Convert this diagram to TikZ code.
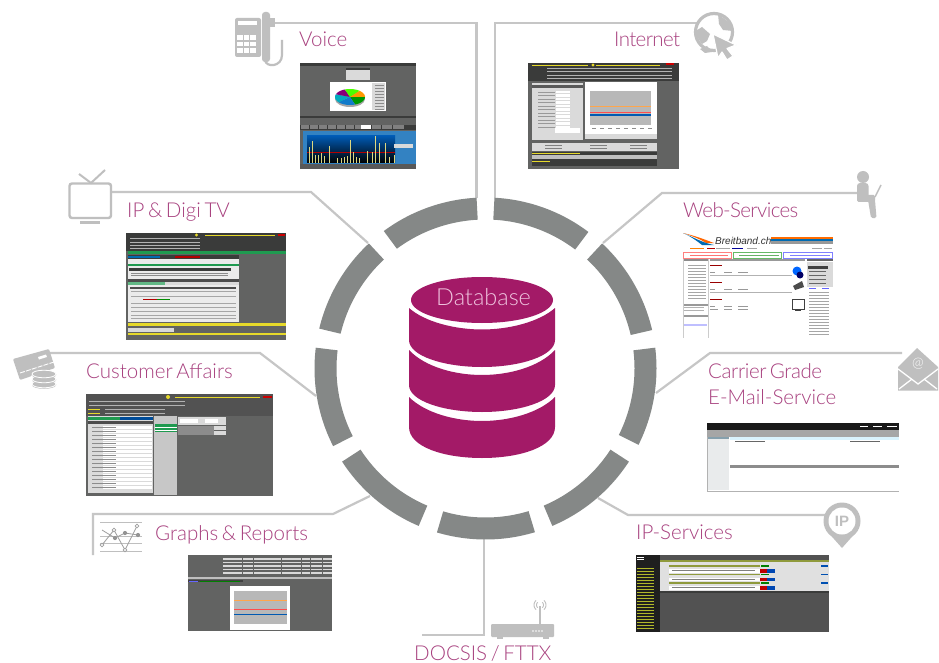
\documentclass[tikz,border=0pt]{standalone}
\usepackage{fontspec}
\setmainfont{Lato}[UprightFont={* Light},WordSpace=0.65]
\newfontfamily\heavyfont{Liberation Sans}[Scale=1]
\definecolor{magtxt}{HTML}{A8417F}
\definecolor{dbmag}{HTML}{A31A67}
\definecolor{dbtxt}{HTML}{EFC3DE}
\definecolor{ringgrey}{HTML}{858887}
\definecolor{linegrey}{HTML}{C6C6C6}
\definecolor{icongrey}{HTML}{BFBFBF}
\definecolor{scrbg}{HTML}{626362}
\definecolor{scrdk}{HTML}{3A3B3A}
\definecolor{scrlt}{HTML}{DADADA}
\definecolor{scrgreen}{HTML}{1F9A50}
\definecolor{scryel}{HTML}{E6D92A}
\definecolor{scrolive}{HTML}{8F9A3C}
\newcommand{\bx}[5]{\fill[#5] (#1,#2) rectangle (#3,#4);}
\newcommand{\ringpart}[2]{\fill[ringfill] plot[domain=#1:#2,samples=30] ({485.5+171*cos(\x)},{368.5+171*sin(\x)}) -- plot[domain=#2:#1,samples=30] ({485.5+149*cos(\x)},{368.5+149*sin(\x)}) -- cycle;}
\newcommand{\piepart}[3]{\fill[#3] (350,97) -- plot[domain=#1:#2,samples=12] ({350+15*cos(\x)},{97+8*sin(\x)}) -- cycle;}
\newcommand{\tight}[2]{{\addfontfeature{LetterSpace=#1}#2}}
\tikzset{
  connector/.style={draw=linegrey,line width=2.2pt,line join=miter},
  ringfill/.style={fill=ringgrey},
  svctext/.style={anchor=base west,inner sep=0pt,text=magtxt,font=\fontsize{20.5}{24}\selectfont},
  icon/.style={fill=icongrey,draw=none},
  iconline/.style={draw=icongrey,line width=2.2pt},
  faint/.style={draw=#1,line width=0.5pt},
}
\begin{document}
\begin{tikzpicture}[x=1pt,y=-1pt]
\useasboundingbox (0,0) rectangle (939,663);
\fill[white] (0,0) rectangle (939,663);

% ---- connector end points
\coordinate (voiceA) at (273,23); \coordinate (voiceB) at (476.5,23); \coordinate (voiceC) at (476.5,198);
\coordinate (netA) at (495,198); \coordinate (netB) at (495,23); \coordinate (netC) at (697,23);
\coordinate (tvA) at (112,192); \coordinate (tvB) at (311,192); \coordinate (tvC) at (368,243);
\coordinate (webA) at (857,193); \coordinate (webB) at (662,193); \coordinate (webC) at (603,243);
\coordinate (custA) at (50,353); \coordinate (custB) at (260,353); \coordinate (custC) at (316,396);
\coordinate (mailA) at (902,353); \coordinate (mailB) at (710,353); \coordinate (mailC) at (656,393);
\coordinate (graphA) at (93,555); \coordinate (graphB) at (93,514); \coordinate (graphC) at (333,514); \coordinate (graphD) at (370,496);
\coordinate (docA) at (422,635); \coordinate (docB) at (484,635); \coordinate (docC) at (484,538);
\coordinate (ipA) at (825,515); \coordinate (ipB) at (628,515); \coordinate (ipC) at (598,498);

\draw[connector] (voiceA) -- (voiceB) -- (voiceC);
\draw[connector] (netA) -- (netB) -- (netC);
\draw[connector] (tvA) -- (tvB) -- (tvC);
\draw[connector] (webA) -- (webB) -- (webC);
\draw[connector] (custA) -- (custB) -- (custC);
\draw[connector] (mailA) -- (mailB) -- (mailC);
\draw[connector] (graphA) -- (graphB) -- (graphC) -- (graphD);
\draw[connector] (docA) -- (docB) -- (docC);
\draw[connector] (ipA) -- (ipB) -- (ipC);

% ---- ring
\ringpart{-87}{-53}
\ringpart{-47}{-13}
\ringpart{-7}{26.5}
\ringpart{33}{67}
\ringpart{73.2}{106.5}
\ringpart{113}{147}
\ringpart{153}{187}
\ringpart{193.5}{227}
\ringpart{233.5}{267}

% ---- database
\fill[dbmag] (409,340) -- (409,308) .. controls (425,322) and (455,329.5) .. (482,329.5) .. controls (509,329.5) and (539,322) .. (555,308) -- (555,340) .. controls (555,356) and (520,367) .. (482,367) .. controls (444,367) and (409,356) .. (409,340) -- cycle;
\fill[dbmag] (409,385) -- (409,350) .. controls (425,367) and (455,375) .. (482,375) .. controls (509,375) and (539,367) .. (555,350) -- (555,385) .. controls (555,401) and (520,412) .. (482,412) .. controls (444,412) and (409,401) .. (409,385) -- cycle;
\fill[dbmag] (409,427) -- (409,397) .. controls (425,413) and (455,421) .. (482,421) .. controls (509,421) and (539,413) .. (555,397) -- (555,427) .. controls (555,447) and (520,458) .. (482,458) .. controls (444,458) and (409,447) .. (409,427) -- cycle;
\fill[dbmag] (482,300) ellipse [x radius=71,y radius=23];
\node[svctext,text=dbtxt,font=\fontsize{23.5}{26}\selectfont] (database) at (436,305) {Database};

% ---- service labels
\node[svctext] (voice) at (299,47) {Voice};
\node[svctext] (internet) at (614,47) {\tight{-3}{Internet}};
\node[svctext] (iptv) at (127,218) {IP \& Digi TV};
\node[svctext] (web) at (683,218) {\tight{-3}{Web-Services}};
\node[svctext] (customer) at (86,378) {Customer Affairs};
\node[svctext] (carrier) at (708,378) {\tight{-2}{Carrier Grade}};
\node[svctext] (email) at (708,404) {E-Mail-Service};
\node[svctext] (graphs) at (155,540) {Graphs \& Reports};
\node[svctext] (ipserv) at (636,539) {IP-Services};
\node[svctext] (docsis) at (414,660) {DOCSIS / FTTX};

% ---- icon: phone
\fill[icon,rounded corners=2pt] (235,18) rectangle (261,57);
\fill[white] (238,21) rectangle (257,25.5);
\fill[white] (237,35) rectangle (256,53);
\foreach \a in {243.3,249.6} {\draw[icongrey,line width=1.2pt] (\a,35) -- (\a,53);}
\foreach \a in {41,47} {\draw[icongrey,line width=1.2pt] (237,\a) -- (256,\a);}
\fill[icon,rounded corners=3pt] (262,12) rectangle (270,62);
\fill[icon] (269,18) rectangle (275,27);
\draw[iconline] (282,40) -- (282,55) .. controls (282,67) and (266,68) .. (265,60);

% ---- icon: globe with cursor
\draw[icongrey,line width=3.2pt] (714,32) circle (18.5);
\fill[icon] (694,32) -- (702,27) -- (710,34) -- (707,41) -- (702,44) -- (697,37) -- cycle;
\fill[icon] (718,14) -- (731,24) -- (733,31) -- (723,30) -- (719,24) -- cycle;
\fill[icon] (700,49) -- (707,46) -- (712,52) -- (705,53) -- cycle;
\fill[icon,draw=white,line width=1.2pt,line join=round] (713,34) -- (736,45) -- (727,48.5) -- (733,56) -- (727,60) -- (722,52) -- (718,58) -- cycle;

% ---- icon: TV
\draw[icongrey,line width=2.4pt,rounded corners=2.5pt] (69.5,183.5) rectangle (111,218);
\draw[icongrey,line width=2pt] (79,174) -- (91,183) -- (105,170);
\fill[icon] (80,221) rectangle (100,223.5);

% ---- icon: credit card and coins
\fill[icon,rounded corners=1pt] (13,359) -- (49,349) -- (55,368) -- (20,380) -- cycle;
\fill[white] (38,357) -- (46,354.5) -- (47,357) -- (39,359.5) -- cycle;
\draw[white,line width=0.9pt,dash pattern=on 5pt off 1.2pt] (20,373) -- (54,362);
\fill[white] (44,380) ellipse [x radius=14,y radius=10];
\foreach \a in {384,379,374}{
  \fill[icon] (32,\a) -- (32,\a+1) .. controls (32,\a+6) and (56,\a+6) .. (56,\a+1) -- (56,\a) -- cycle;
  \fill[icon,draw=white,line width=0.8pt] (44,\a) ellipse [x radius=12,y radius=3.8];
}

% ---- icon: person with laptop
\fill[icon] (863,177) circle (6);
\fill[icon,rounded corners=3pt] (857,183) rectangle (868.5,202);
\fill[icon,rounded corners=1.5pt] (857,195) rectangle (875,202);
\fill[icon,rounded corners=1.5pt] (868,200) -- (875,200) -- (876.5,218) -- (871,218) -- cycle;
\draw[icongrey,line width=1.4pt] (875,197) -- (881,185);

% ---- icon: envelope
\fill[icon] (898,367) -- (917,348) -- (938,367) -- (938,390.5) -- (898,390.5) -- cycle;
\node[inner sep=0pt,text=white,font=\fontsize{14}{14}\selectfont] (mailat) at (918,364) {@};
\draw[white,line width=1.3pt] (898,369) -- (918,384) -- (938,369);
\draw[white,line width=1.3pt] (899,389) -- (912,379) (937,389) -- (924,379);

% ---- icon: graph
\foreach \a in {522,536,543,551} {\draw[icongrey,line width=0.9pt] (100,\a) -- (142,\a);}
\draw[black!38,line width=0.8pt] (102,545) -- (114,530) -- (125,550) -- (137,526);
\draw[black!38,line width=0.8pt] (102,530) -- (115,538) -- (125,533) -- (138,535);
\foreach \p/\q in {102/545,114/530,125/550,137/526}
  {\fill[white,draw=black!38,line width=0.7pt] (\p,\q) circle (1.9);}
\foreach \p/\q in {115/538,125/533,138/535}
  {\fill[black!42] (\p,\q) circle (2.1);}

% ---- icon: router
\fill[icon,rounded corners=1pt] (491,624) rectangle (554,637);
\fill[icon] (497,637) rectangle (503,639); \fill[icon] (543,637) rectangle (549,639);
\foreach \a in {533,536,539,542} {\fill[white] (\a,631) circle (0.9);}
\draw[icongrey,line width=1.4pt] (540,624) -- (540,606);
\foreach \r in {3.5,6}{
  \draw[icongrey,line width=0.9pt] plot[domain=-50:50,samples=9] ({540+\r*cos(\x)},{605+\r*sin(\x)});
  \draw[icongrey,line width=0.9pt] plot[domain=130:230,samples=9] ({540+\r*cos(\x)},{605+\r*sin(\x)});
}

% ---- icon: IP pin
\fill[icon] (842,548) -- (826,530) -- (858,530) -- cycle;
\fill[icon] (842,521) circle (18.5);
\fill[white] (842,521) circle (13.5);
\node[inner sep=0pt,text=icongrey,font=\heavyfont\bfseries\fontsize{15}{15}\selectfont] (pintext) at (842,521) {IP};

% ---- screenshot: Voice
\bx{300}{63}{416}{169}{scrbg}
\bx{300}{63}{416}{66}{scrdk}
\bx{346}{68}{370}{80}{scrlt}
\bx{346}{68}{370}{70.5}{scrdk}
\bx{330}{82}{386}{111}{white}
\fill[black!35] (350,99) ellipse [x radius=15,y radius=8];
\piepart{0}{70}{green!60!black}
\piepart{70}{140}{cyan!60!blue}
\piepart{140}{200}{cyan!70!green}
\piepart{200}{250}{purple!70!blue}
\piepart{250}{310}{green!70!yellow}
\piepart{310}{360}{orange!80!yellow}
\bx{372}{83}{385}{110}{scrlt}
\foreach \a in {85,88,...,109} {\draw[faint=black!45] (375,\a) -- (384,\a);}
\bx{300}{116}{416}{118}{scrdk}
\bx{300}{125}{416}{130}{scrdk}
\foreach \a in {301,310,319,328,337,346,355} {\bx{\a}{125.5}{\a+7.5}{129.5}{black!50}}
\bx{361}{125.5}{371}{129.5}{white}
\bx{372}{125.5}{381}{129.5}{black!50}
\bx{382}{125.5}{392}{129.5}{black!50}
\bx{393}{125.5}{404}{129.5}{black!50}
\bx{302.7}{131}{416}{164.5}{blue!45!cyan!70!black!80}
\shade[top color=blue!50!cyan!70!black,bottom color=black] (307,136) rectangle (395,163);
\draw[red!70!black,line width=0.7pt] (307,152) -- (395,152);
\foreach \p/\q in {309/147,312/141,315/155,318/155,321/153,324/156,329/146,337/158,341/158,344/157,347/156,350/140,353/152,356/157,359/158,367/151,372/152,375/136,379/143,385/143,389/157,394/155}
  {\draw[yellow!50!white!85!black,line width=0.9pt] (\p,163) -- (\p,\q);}
\bx{394}{144}{413}{148}{scrlt}
\bx{300}{164.5}{416}{169}{black!65}

% ---- screenshot: Internet
\bx{528}{63}{679}{169}{scrbg}
\bx{528}{63}{679}{81}{scrdk}
\foreach \a in {68,71,75,78} {\draw[faint=white!70!black] (547,\a) -- (672,\a);}
\draw[faint=scryel] (532,65) -- (588,65);
\fill[scryel] (593,65) circle (1.6);
\draw[faint=scryel] (596,65) -- (660,65);
\bx{666}{63.5}{674}{65}{red!80!black}
\bx{532}{83}{583}{140}{scrlt}
\bx{532}{85}{583}{88}{black!65}
\foreach \a in {91,94.5,...,126} {\bx{556}{\a}{570}{\a+2.4}{white}}
\foreach \a in {92,95.5,...,127} {\draw[faint=black!40] (538,\a) -- (555,\a);}
\bx{555}{128}{580}{133}{white}
\bx{585}{82}{657}{139}{white}
\bx{590}{91}{651}{125}{black!28}
\draw[orange!70,line width=0.6pt] (590,106) -- (651,106);
\draw[red!70,line width=0.6pt] (590,112) -- (651,112);
\draw[blue!50!cyan!70!black,line width=1.4pt] (590,115) -- (651,115);
\foreach \a in {592,600,...,648} {\draw[faint=black!45] (\a,128) -- (\a+4,128);}
\bx{585}{134}{657}{139}{black!15}
\bx{532}{143}{657}{151}{scrlt}
\foreach \a in {545,590,630} {\draw[faint=black!50] (\a,145) -- (\a+17,145) (\a,148) -- (\a+17,148);}
\bx{532}{152}{657}{166}{scrdk}
\bx{532}{155}{657}{159}{white!75!black}
\draw[faint=scryel] (532,153) -- (580,153);
\draw[faint=scryel] (532,161) -- (550,161);

% ---- screenshot: IP & Digi TV
\bx{126}{233}{286}{340}{scrbg}
\bx{126}{233}{286}{251}{scrdk}
\foreach \a in {238,242,245,248} {\draw[faint=white!70!black] (130,\a) -- (200,\a);}
\draw[faint=scryel] (205,235) -- (275,235);
\fill[scryel] (196.5,235) circle (1.7);
\bx{278}{234}{285}{236}{red!80!black}
\bx{128}{250.5}{286}{254}{scrgreen}
\bx{128}{255}{239}{259}{scrdk}
\bx{128}{256}{160}{258}{blue!40!cyan!70!black}
\bx{175}{256}{200}{258}{red!70!black}
\bx{128}{259}{239}{322}{white!92!black}
\bx{128}{264}{239}{266}{scrgreen}
\bx{129}{268}{231}{271}{scrdk}
\foreach \a in {273,275} {\draw[faint=black!45] (131,\a) -- (228,\a);}
\bx{128}{279}{239}{282}{black!70}
\bx{128}{282}{239}{285}{scrlt}
\bx{128}{282}{165}{285}{scrgreen!70!white}
\bx{130}{287}{236}{289}{black!70}
\foreach \a in {291,296,303,307,311,315,318} {\draw[faint=black!35] (131,\a) -- (236,\a);}
\bx{143}{298.5}{157}{300}{red!70!black}
\bx{157}{298.5}{170}{300}{green!55!black}
\bx{128}{323}{286}{325.5}{scryel}
\bx{128}{328}{174}{332}{white!85!black}
\bx{128}{333}{286}{335}{scryel}

% ---- screenshot: Customer Affairs
\bx{86}{394}{273}{496}{scrbg}
\bx{86}{394}{273}{416}{black!68}
\foreach \a in {401,405} {\draw[faint=white!70!black] (89,\a) -- (185,\a);}
\foreach \a in {409,413} {\draw[faint=white!70!black] (105,\a) -- (165,\a); \draw[faint=scryel] (88,\a) -- (100,\a);}
\draw[faint=scryel] (175,397) -- (260,397);
\fill[scryel] (168,397) circle (2);
\bx{263}{396}{272}{397.5}{red!80!black}
\bx{88}{416}{153}{493}{scrlt}
\bx{88}{417}{120}{419.5}{scrgreen}
\bx{120}{417}{153}{419.5}{blue!50!cyan!60!black}
\bx{88}{421}{153}{424}{black!70}
\foreach \a in {426,430,...,488} {\bx{103}{\a}{152}{\a+2.8}{white}}
\foreach \a in {427,431,...,489} {\draw[faint=black!45] (92,\a) -- (116,\a);}
\bx{154}{416}{177}{495}{black!22}
\bx{155}{424}{177}{432}{scrgreen}
\bx{155}{426.5}{177}{427.5}{white}
\bx{155}{429.5}{177}{430.5}{white}
\bx{178}{417}{226}{425}{scrlt}
\bx{180}{419}{198}{423}{white}
\bx{205}{419}{218}{423}{white}
\bx{178}{426}{214}{435}{black!45}
\bx{214}{426}{226}{430}{scrlt}
\bx{214}{431}{226}{435}{scrlt}

% ---- screenshot: Web-Services
\bx{682}{233}{833}{338}{white}
\fill[orange!80!red] (683,233) .. controls (700,237) and (708,241) .. (714,243) -- (706,243) .. controls (700,239) and (692,236) .. (683,233) -- cycle;
\fill[blue!40!cyan!70!black] (683,233) .. controls (695,238) and (703,243) .. (714,245) -- (702,245) .. controls (697,241) and (690,236) .. (683,233) -- cycle;
\node[inner sep=0pt,anchor=base west,text=black!80,font=\heavyfont\itshape\fontsize{10}{12}\selectfont] (breit) at (715,244) {Breitband.ch};
\bx{771}{237}{833}{239}{orange!85!red}
\bx{771}{239}{833}{241}{blue!40!cyan!70!black}
\bx{771}{241}{833}{244}{black!40}
\foreach \a/\b/\c in {690/704/orange,707/715/red!70!black,716/730/black!35,732/743/blue!60!black,747/757/black!35,812/822/black!35,824/832/black!35}
  {\draw[\c,line width=0.9pt] (\a,248) -- (\b,248);}
\draw[red!50,line width=0.5pt] (683,252.5) rectangle (731,258);
\draw[green!55!black!60,line width=0.5pt] (733,252.5) rectangle (781,258);
\draw[blue!50,line width=0.5pt] (783,252.5) rectangle (832,258);
\foreach \a/\b/\c in {690/728/red!55,739/779/green!50!black!60,790/830/blue!50}
  {\draw[\c,line width=0.8pt] (\a,255.3) -- (\b,255.3);}
\bx{683}{259}{708}{261}{black!45}
\foreach \a in {265,268,...,298} {\draw[faint=black!35] (688,\a) -- (706,\a);}
\bx{683}{304}{708}{305.5}{black!40}
\foreach \a in {307,310} {\draw[faint=black!30] (684,\a) -- (704,\a);}
\bx{683}{315}{708}{316.5}{black!40}
\bx{684}{324}{707}{326}{blue!25}
\draw[faint=black!20] (683,259) -- (683,338) (708,259) -- (708,338);
\bx{710}{259}{805}{261}{black!40}
\foreach \p in {265,282,299}{
  \draw[red!60!black,line width=0.5pt] (710,\p) -- (722,\p);
  \draw[faint=black!40] (710,\p+7) -- (715,\p+7) (724,\p+7) -- (732,\p+7) (738,\p+7) -- (748,\p+7);
  \draw[faint=black!40] (710,\p+10) -- (718,\p+10) (724,\p+10) -- (732,\p+10) (738,\p+10) -- (748,\p+10);
}
\draw[faint=black!30] (710,275) -- (792,275);
\draw[faint=black!30] (710,292) -- (792,292);
\fill[blue!60!cyan] (797,271) circle (4.5);
\fill[blue!40!black] (800,275) circle (3.5);
\fill[black!70] (793,286) -- (802,281) -- (804,287) -- (795,290) -- cycle;
\draw[black!75,line width=1pt,fill=white] (792,299) rectangle (804,309);
\bx{795}{309}{801}{311}{black!75}
\bx{807}{259}{833}{261}{black!60}
\bx{807}{262}{833}{287}{scrlt}
\bx{808}{266}{828}{268.5}{black!75}
\foreach \a in {271,275,279,283} {\draw[faint=black!60] (809,\a) -- (826,\a);}
\draw[faint=blue!60] (809,288) -- (816,288) (822,288) -- (829,288);
\foreach \a in {292,295,...,336} {\draw[faint=black!35] (809,\a) -- (829,\a);}

% ---- screenshot: E-Mail
\bx{707}{423}{899}{492}{black!30}
\bx{708}{437}{899}{491}{white}
\bx{707}{423}{899}{430}{black!90}
\bx{707}{430}{899}{437}{black!35}
\bx{708}{437}{729}{490}{cyan!15!black!10!white}
\bx{708}{437}{729}{439}{cyan!40!black!60}
\bx{730}{437}{899}{439.5}{cyan!15!white}
\draw[faint=black!60] (735,441) -- (765,441) (850,441) -- (880,441);
\bx{730}{465}{899}{468}{black!45}
\draw[faint=white] (860,426.5) -- (868,426.5) (873,426.5) -- (882,426.5) (887,426.5) -- (897,426.5);

% ---- screenshot: Graphs & Reports
\bx{188}{555}{332}{631}{scrbg}
\foreach \a in {558,561.5,...,574} {\bx{223}{\a}{332}{\a+1.8}{white!85!black}}
\foreach \a in {242,253,281,301,310,322} {\draw[scrbg,line width=0.8pt] (\a,557) -- (\a,577);}
\bx{188}{577}{332}{578.5}{white!75!black}
\bx{188}{580}{243}{581.5}{black!75}
\draw[green!50!black,line width=0.5pt] (200,581) -- (240,581);
\draw[blue!60,line width=0.5pt] (189,581) -- (198,581);
\bx{230}{586}{290}{630}{white}
\bx{234}{591}{287}{624}{black!28}
\draw[orange!70,line width=0.6pt] (234,600) -- (287,600);
\draw[red!70,line width=0.6pt] (234,609) -- (287,609);
\draw[blue!50!cyan!70!black,line width=1pt] (234,614) -- (287,614);

% ---- screenshot: IP-Services
\bx{636}{555}{829}{632}{black!68}
\bx{636}{555}{660}{632}{black!88}
\foreach \a in {557,559} {\draw[faint=white] (637,\a) -- (644,\a);}
\foreach \a in {568,571,...,628} {\draw[scrolive!70!yellow,line width=0.7pt] (637,\a) -- (654,\a);}
\bx{660}{562}{829}{592}{white!88!black}
\foreach \a in {0,8.5,17}{
  \bx{669}{565+\a}{760}{566.7+\a}{scrolive}
  \bx{669}{569+\a}{760}{572.5+\a}{white}
  \bx{760}{569+\a}{767}{572.5+\a}{red!75!black}
  \bx{767}{569+\a}{775}{572.5+\a}{blue!60!cyan!70!black}
  \bx{761}{565+\a}{769}{566.7+\a}{green!50!black}
  \draw[faint=black!50] (672,570.5+\a) -- (755,570.5+\a);
  \bx{821}{565+\a}{828}{566.5+\a}{blue!55!cyan!70!black}
}
\bx{660}{560}{829}{562}{scrolive}
\bx{660}{591}{829}{593}{scrdk}
\end{tikzpicture}
\end{document}
